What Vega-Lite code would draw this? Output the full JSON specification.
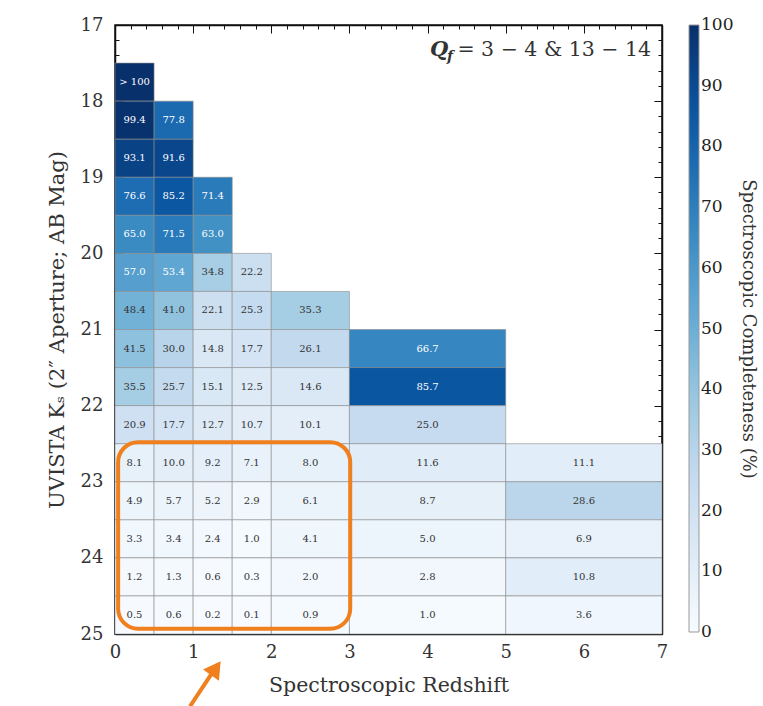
{
  "$schema": "https://vega.github.io/schema/vega-lite/v6.json",
  "width": 547,
  "height": 609,
  "autosize": "none",
  "padding": {"left": 115, "top": 25, "right": 101, "bottom": 72},
  "background": "white",
  "config": {
    "font": "DejaVu Serif",
    "view": {"stroke": "#111", "strokeWidth": 1.5},
    "axis": {"grid": false, "domainColor": "#111", "domainWidth": 1.5, "tickColor": "#111", "tickWidth": 1, "labelColor": "#333", "titleColor": "#333", "labelFont": "DejaVu Serif", "titleFont": "DejaVu Serif", "titleFontWeight": "normal"}
  },
  "datasets": {
    "cells": [
      {"z0": 0, "z1": 0.5, "k0": 17.5, "k1": 18, "c": 105},
      {"z0": 0, "z1": 0.5, "k0": 18, "k1": 18.5, "c": 99.4},
      {"z0": 0.5, "z1": 1, "k0": 18, "k1": 18.5, "c": 77.8},
      {"z0": 0, "z1": 0.5, "k0": 18.5, "k1": 19, "c": 93.1},
      {"z0": 0.5, "z1": 1, "k0": 18.5, "k1": 19, "c": 91.6},
      {"z0": 0, "z1": 0.5, "k0": 19, "k1": 19.5, "c": 76.6},
      {"z0": 0.5, "z1": 1, "k0": 19, "k1": 19.5, "c": 85.2},
      {"z0": 1, "z1": 1.5, "k0": 19, "k1": 19.5, "c": 71.4},
      {"z0": 0, "z1": 0.5, "k0": 19.5, "k1": 20, "c": 65.0},
      {"z0": 0.5, "z1": 1, "k0": 19.5, "k1": 20, "c": 71.5},
      {"z0": 1, "z1": 1.5, "k0": 19.5, "k1": 20, "c": 63.0},
      {"z0": 0, "z1": 0.5, "k0": 20, "k1": 20.5, "c": 57.0},
      {"z0": 0.5, "z1": 1, "k0": 20, "k1": 20.5, "c": 53.4},
      {"z0": 1, "z1": 1.5, "k0": 20, "k1": 20.5, "c": 34.8},
      {"z0": 1.5, "z1": 2, "k0": 20, "k1": 20.5, "c": 22.2},
      {"z0": 0, "z1": 0.5, "k0": 20.5, "k1": 21, "c": 48.4},
      {"z0": 0.5, "z1": 1, "k0": 20.5, "k1": 21, "c": 41.0},
      {"z0": 1, "z1": 1.5, "k0": 20.5, "k1": 21, "c": 22.1},
      {"z0": 1.5, "z1": 2, "k0": 20.5, "k1": 21, "c": 25.3},
      {"z0": 2, "z1": 3, "k0": 20.5, "k1": 21, "c": 35.3},
      {"z0": 0, "z1": 0.5, "k0": 21, "k1": 21.5, "c": 41.5},
      {"z0": 0.5, "z1": 1, "k0": 21, "k1": 21.5, "c": 30.0},
      {"z0": 1, "z1": 1.5, "k0": 21, "k1": 21.5, "c": 14.8},
      {"z0": 1.5, "z1": 2, "k0": 21, "k1": 21.5, "c": 17.7},
      {"z0": 2, "z1": 3, "k0": 21, "k1": 21.5, "c": 26.1},
      {"z0": 3, "z1": 5, "k0": 21, "k1": 21.5, "c": 66.7},
      {"z0": 0, "z1": 0.5, "k0": 21.5, "k1": 22, "c": 35.5},
      {"z0": 0.5, "z1": 1, "k0": 21.5, "k1": 22, "c": 25.7},
      {"z0": 1, "z1": 1.5, "k0": 21.5, "k1": 22, "c": 15.1},
      {"z0": 1.5, "z1": 2, "k0": 21.5, "k1": 22, "c": 12.5},
      {"z0": 2, "z1": 3, "k0": 21.5, "k1": 22, "c": 14.6},
      {"z0": 3, "z1": 5, "k0": 21.5, "k1": 22, "c": 85.7},
      {"z0": 0, "z1": 0.5, "k0": 22, "k1": 22.5, "c": 20.9},
      {"z0": 0.5, "z1": 1, "k0": 22, "k1": 22.5, "c": 17.7},
      {"z0": 1, "z1": 1.5, "k0": 22, "k1": 22.5, "c": 12.7},
      {"z0": 1.5, "z1": 2, "k0": 22, "k1": 22.5, "c": 10.7},
      {"z0": 2, "z1": 3, "k0": 22, "k1": 22.5, "c": 10.1},
      {"z0": 3, "z1": 5, "k0": 22, "k1": 22.5, "c": 25.0},
      {"z0": 0, "z1": 0.5, "k0": 22.5, "k1": 23, "c": 8.1},
      {"z0": 0.5, "z1": 1, "k0": 22.5, "k1": 23, "c": 10.0},
      {"z0": 1, "z1": 1.5, "k0": 22.5, "k1": 23, "c": 9.2},
      {"z0": 1.5, "z1": 2, "k0": 22.5, "k1": 23, "c": 7.1},
      {"z0": 2, "z1": 3, "k0": 22.5, "k1": 23, "c": 8.0},
      {"z0": 3, "z1": 5, "k0": 22.5, "k1": 23, "c": 11.6},
      {"z0": 5, "z1": 7, "k0": 22.5, "k1": 23, "c": 11.1},
      {"z0": 0, "z1": 0.5, "k0": 23, "k1": 23.5, "c": 4.9},
      {"z0": 0.5, "z1": 1, "k0": 23, "k1": 23.5, "c": 5.7},
      {"z0": 1, "z1": 1.5, "k0": 23, "k1": 23.5, "c": 5.2},
      {"z0": 1.5, "z1": 2, "k0": 23, "k1": 23.5, "c": 2.9},
      {"z0": 2, "z1": 3, "k0": 23, "k1": 23.5, "c": 6.1},
      {"z0": 3, "z1": 5, "k0": 23, "k1": 23.5, "c": 8.7},
      {"z0": 5, "z1": 7, "k0": 23, "k1": 23.5, "c": 28.6},
      {"z0": 0, "z1": 0.5, "k0": 23.5, "k1": 24, "c": 3.3},
      {"z0": 0.5, "z1": 1, "k0": 23.5, "k1": 24, "c": 3.4},
      {"z0": 1, "z1": 1.5, "k0": 23.5, "k1": 24, "c": 2.4},
      {"z0": 1.5, "z1": 2, "k0": 23.5, "k1": 24, "c": 1.0},
      {"z0": 2, "z1": 3, "k0": 23.5, "k1": 24, "c": 4.1},
      {"z0": 3, "z1": 5, "k0": 23.5, "k1": 24, "c": 5.0},
      {"z0": 5, "z1": 7, "k0": 23.5, "k1": 24, "c": 6.9},
      {"z0": 0, "z1": 0.5, "k0": 24, "k1": 24.5, "c": 1.2},
      {"z0": 0.5, "z1": 1, "k0": 24, "k1": 24.5, "c": 1.3},
      {"z0": 1, "z1": 1.5, "k0": 24, "k1": 24.5, "c": 0.6},
      {"z0": 1.5, "z1": 2, "k0": 24, "k1": 24.5, "c": 0.3},
      {"z0": 2, "z1": 3, "k0": 24, "k1": 24.5, "c": 2.0},
      {"z0": 3, "z1": 5, "k0": 24, "k1": 24.5, "c": 2.8},
      {"z0": 5, "z1": 7, "k0": 24, "k1": 24.5, "c": 10.8},
      {"z0": 0, "z1": 0.5, "k0": 24.5, "k1": 25, "c": 0.5},
      {"z0": 0.5, "z1": 1, "k0": 24.5, "k1": 25, "c": 0.6},
      {"z0": 1, "z1": 1.5, "k0": 24.5, "k1": 25, "c": 0.2},
      {"z0": 1.5, "z1": 2, "k0": 24.5, "k1": 25, "c": 0.1},
      {"z0": 2, "z1": 3, "k0": 24.5, "k1": 25, "c": 0.9},
      {"z0": 3, "z1": 5, "k0": 24.5, "k1": 25, "c": 1.0},
      {"z0": 5, "z1": 7, "k0": 24.5, "k1": 25, "c": 3.6}
    ]
  },
  "layer": [
    {
      "data": {"name": "cells"},
      "mark": {"type": "rect", "stroke": "#8c8c8c", "strokeWidth": 0.6},
      "encoding": {
        "x": {
          "field": "z0", "type": "quantitative",
          "scale": {"domain": [0, 7], "nice": false, "zero": false},
          "axis": {
            "orient": "bottom",
            "values": [0,0.2,0.4,0.6,0.8,1,1.2,1.4,1.6,1.8,2,2.2,2.4,2.6,2.8,3,3.2,3.4,3.6,3.8,4,4.2,4.4,4.6,4.8,5,5.2,5.4,5.6,5.8,6,6.2,6.4,6.6,6.8,7],
            "labelExpr": "abs(datum.value - round(datum.value)) < 0.01 ? format(datum.value, 'd') : ''",
            "tickSize": {"condition": {"test": "abs(datum.value - round(datum.value)) < 0.01", "value": -8}, "value": -4},
            "labelFontSize": 18, "labelPadding": 17, "labelOverlap": false, "labelFlush": false,
            "title": "Spectroscopic Redshift", "titleFontSize": 20.5, "titlePadding": 10
          }
        },
        "x2": {"field": "z1"},
        "y": {
          "field": "k0", "type": "quantitative",
          "scale": {"domain": [17, 25], "reverse": true, "nice": false, "zero": false},
          "axis": {
            "orient": "left",
            "values": [17,17.2,17.4,17.6,17.8,18,18.2,18.4,18.6,18.8,19,19.2,19.4,19.6,19.8,20,20.2,20.4,20.6,20.8,21,21.2,21.4,21.6,21.8,22,22.2,22.4,22.6,22.8,23,23.2,23.4,23.6,23.8,24,24.2,24.4,24.6,24.8,25],
            "labelExpr": "abs(datum.value - round(datum.value)) < 0.01 ? format(datum.value, 'd') : ''",
            "tickSize": {"condition": {"test": "abs(datum.value - round(datum.value)) < 0.01", "value": -8}, "value": -4},
            "labelFontSize": 18, "labelPadding": 20, "labelOverlap": false, "labelFlush": false,
            "title": "UVISTA Kₛ (2″ Aperture; AB Mag)", "titleFontSize": 21, "titlePadding": 13
          }
        },
        "y2": {"field": "k1"},
        "color": {
          "field": "c", "type": "quantitative",
          "scale": {
            "domain": [0, 12.5, 25, 37.5, 50, 62.5, 75, 87.5, 100],
            "range": ["#f7fbff", "#deebf7", "#c6dbef", "#9ecae1", "#6baed6", "#4292c6", "#2171b5", "#08519c", "#08306b"],
            "clamp": true
          },
          "legend": {
            "orient": "right", "direction": "vertical", "offset": 26, "padding": 0,
            "gradientLength": 607, "gradientThickness": 10,
            "gradientStrokeColor": "#999", "gradientStrokeWidth": 1,
            "values": [0,10,20,30,40,50,60,70,80,90,100],
            "labelFontSize": 17, "labelFont": "DejaVu Serif", "labelColor": "#222", "labelOffset": 2,
            "title": "Spectroscopic Completeness (%)", "titleOrient": "right", "titleFontSize": 18,
            "titleFont": "DejaVu Serif", "titleFontWeight": "normal", "titleColor": "#333", "titlePadding": 6,
            "titleLimit": 1000, "titleAnchor": "middle",
            "encode": {
              "labels": {"update": {"baseline": {"value": "middle"}}},
              "title": {"update": {"angle": {"value": 90}}}
            }
          }
        }
      }
    },
    {
      "data": {"name": "cells"},
      "transform": [
        {"calculate": "(datum.z0 + datum.z1) / 2", "as": "zm"},
        {"calculate": "(datum.k0 + datum.k1) / 2", "as": "km"}
      ],
      "mark": {"type": "text", "fontSize": 10, "font": "DejaVu Serif", "baseline": "middle", "align": "center"},
      "encoding": {
        "x": {
          "field": "zm", "type": "quantitative",
          "axis": {
            "orient": "top", "labels": false, "title": null, "domain": true,
            "values": [0,0.2,0.4,0.6,0.8,1,1.2,1.4,1.6,1.8,2,2.2,2.4,2.6,2.8,3,3.2,3.4,3.6,3.8,4,4.2,4.4,4.6,4.8,5,5.2,5.4,5.6,5.8,6,6.2,6.4,6.6,6.8,7],
            "tickSize": {"condition": {"test": "abs(datum.value - round(datum.value)) < 0.01", "value": -8}, "value": -4}
          }
        },
        "y": {
          "field": "km", "type": "quantitative",
          "axis": {
            "orient": "right", "labels": false, "title": null, "domain": true,
            "values": [17,17.2,17.4,17.6,17.8,18,18.2,18.4,18.6,18.8,19,19.2,19.4,19.6,19.8,20,20.2,20.4,20.6,20.8,21,21.2,21.4,21.6,21.8,22,22.2,22.4,22.6,22.8,23,23.2,23.4,23.6,23.8,24,24.2,24.4,24.6,24.8,25],
            "tickSize": {"condition": {"test": "abs(datum.value - round(datum.value)) < 0.01", "value": -8}, "value": -4}
          }
        },
        "text": {"condition": {"test": "datum.c >= 100", "value": "> 100"}, "field": "c", "format": ".1f"},
        "color": {"condition": {"test": "datum.c > 50", "value": "#ffffff"}, "value": "#333333"}
      }
    },
    {
      "data": {"values": [{}]},
      "mark": {"type": "rect", "fillOpacity": 0, "stroke": "#f07f1e", "strokeWidth": 4, "cornerRadius": 20, "clip": false},
      "encoding": {
        "x": {"datum": 0.04, "type": "quantitative", "axis": null},
        "x2": {"datum": 3.01},
        "y": {"datum": 22.48, "type": "quantitative", "axis": null},
        "y2": {"datum": 24.93}
      }
    },
    {
      "data": {"values": [{}]},
      "mark": {"type": "rule", "stroke": "#f07f1e", "strokeWidth": 4, "clip": false},
      "encoding": {
        "x": {"datum": 0.96, "type": "quantitative", "axis": null},
        "x2": {"datum": 1.25},
        "y": {"datum": 25.95, "type": "quantitative", "axis": null},
        "y2": {"datum": 25.5}
      }
    },
    {
      "data": {"values": [{}]},
      "mark": {"type": "point", "shape": "triangle-up", "filled": true, "color": "#f07f1e", "opacity": 1, "size": 380, "angle": 35, "clip": false},
      "encoding": {
        "x": {"datum": 1.29, "type": "quantitative", "axis": null},
        "y": {"datum": 25.45, "type": "quantitative", "axis": null}
      }
    },
    {
      "data": {"values": [{}]},
      "mark": {"type": "text", "text": "Q", "font": "DejaVu Serif", "fontStyle": "italic", "fontWeight": "bold", "fontSize": 21, "align": "left", "baseline": "middle", "color": "#333"},
      "encoding": {
        "x": {"datum": 4.03, "type": "quantitative", "axis": null},
        "y": {"datum": 17.33, "type": "quantitative", "axis": null}
      }
    },
    {
      "data": {"values": [{}]},
      "mark": {"type": "text", "text": "f", "font": "DejaVu Serif", "fontStyle": "italic", "fontWeight": "bold", "fontSize": 14, "align": "left", "baseline": "middle", "color": "#333"},
      "encoding": {
        "x": {"datum": 4.25, "type": "quantitative", "axis": null},
        "y": {"datum": 17.42, "type": "quantitative", "axis": null}
      }
    },
    {
      "data": {"values": [{}]},
      "mark": {"type": "text", "text": "= 3 − 4 & 13 − 14", "font": "DejaVu Serif", "fontSize": 20.5, "align": "right", "baseline": "middle", "color": "#333"},
      "encoding": {
        "x": {"datum": 6.86, "type": "quantitative", "axis": null},
        "y": {"datum": 17.33, "type": "quantitative", "axis": null}
      }
    }
  ],
  "resolve": {"axis": {"x": "independent", "y": "independent"}}
}
